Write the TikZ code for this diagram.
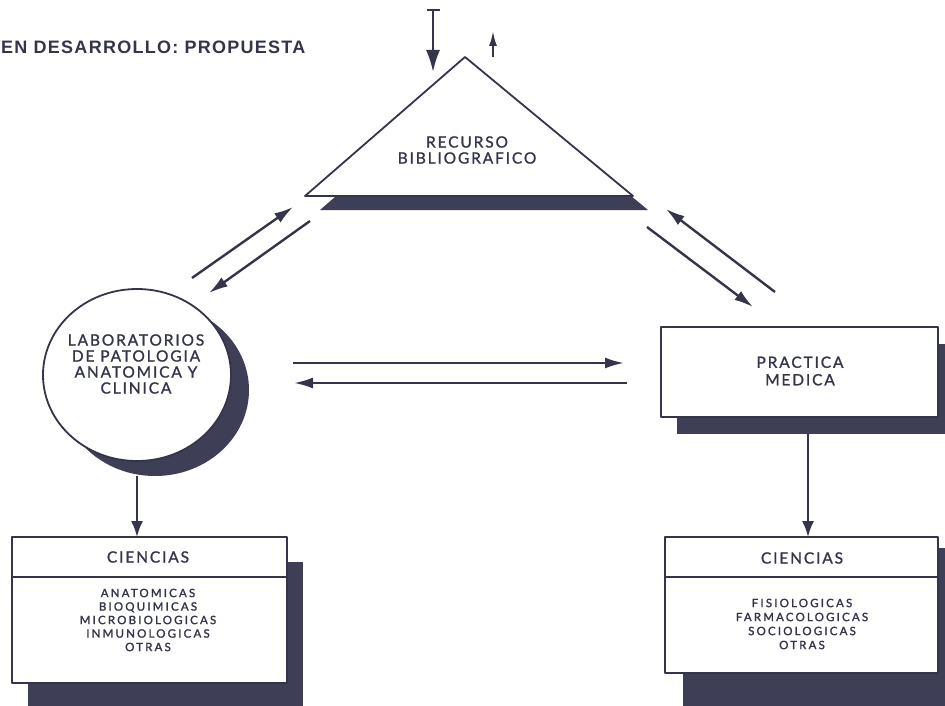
\documentclass[tikz,border=0pt]{standalone}
\usepackage{fontspec}
\setmainfont{Lato}
\newfontfamily\titlefont[LetterSpace=7]{Liberation Sans}
\newfontfamily\lblfont[LetterSpace=12,FakeBold=1.2]{Lato}
\newfontfamily\itmfont[LetterSpace=19,FakeBold=1.6]{Lato}
\usetikzlibrary{arrows.meta,shapes.geometric}
\definecolor{ink}{HTML}{34354A}
\definecolor{shadowcol}{HTML}{3E3F56}
\tikzset{
  lbl/.style={text=ink, align=center, inner sep=0pt, font=\lblfont\fontsize{15.5}{16}\selectfont},
  itm/.style={text=ink, align=center, inner sep=0pt, font=\itmfont\fontsize{11.5}{13.5}\selectfont},
  shadowfill/.style={fill=shadowcol, draw=none},
  boxline/.style={draw=ink, line width=1.8pt, fill=white},
  arr/.style={draw=ink, line width=2.4pt, -{Latex[length=19pt,width=11pt]}},
}
\begin{document}
\begin{tikzpicture}[x=1pt,y=-1pt,line join=round]
\useasboundingbox (0,0) rectangle (945,706);
\fill[white] (0,0) rectangle (945,706);

% title
\node[anchor=west, text=ink, inner sep=0pt, font=\titlefont\bfseries\fontsize{18}{18}\selectfont] (title) at (1,47) {EN DESARROLLO: PROPUESTA};

% triangle
\fill[shadowfill] (480,71) -- (320,210) -- (648,210) -- cycle;
\draw[boxline] (465,57) -- (305,196) -- (633,196) -- cycle;
\coordinate (apex) at (465,57);
\node[lbl] (rec) at (467,150) {RECURSO\\BIBLIOGRAFICO};

% top arrows
\coordinate (tin) at (433,9);
\coordinate (tinend) at (433,72);
\draw[draw=ink, line width=2.2pt, {Bar[width=13pt,line width=2pt]}-{Latex[length=22pt,width=14pt]}] (tin) -- (tinend);
\coordinate (tout) at (493,57);
\coordinate (toutend) at (493,31);
\draw[draw=ink, line width=2pt, -{Latex[length=15pt,width=8pt]}] (tout) -- (toutend);

% circle
\node[ellipse, shadowfill, minimum width=188pt, minimum height=172pt] (labsh) at (155,390) {};
\node[ellipse, boxline, minimum width=188pt, minimum height=172pt] (lab) at (137,375) {};
\node[lbl, font=\lblfont\fontsize{15.5}{16}\selectfont] (labt) at (136,364) {LABORATORIOS\\DE PATOLOGIA\\ANATOMICA Y\\CLINICA};

% practica medica
\fill[shadowfill] (677,344) rectangle (956,434);
\node[rectangle, boxline, minimum width=277pt, minimum height=90pt, inner sep=0pt] (pm) at (799.5,372) {};
\node[lbl, font=\lblfont\fontsize{15.5}{17.5}\selectfont] (pmt) at (800,371) {PRACTICA\\MEDICA};

% left ciencias
\fill[shadowfill] (28,562) rectangle (303,712);
\draw[boxline] (12,537) rectangle (287,683);
\draw[draw=ink, line width=1.6pt] (12,577) -- (287,577);
\coordinate (lbtop) at (137,537);
\node[lbl] (lch) at (148,557) {CIENCIAS};
\node[itm] (lci) at (148,620) {ANATOMICAS\\BIOQUIMICAS\\MICROBIOLOGICAS\\INMUNOLOGICAS\\OTRAS};

% right ciencias
\fill[shadowfill] (683,548) rectangle (960,712);
\draw[boxline] (665,537) rectangle (938,673);
\draw[draw=ink, line width=1.6pt] (665,577) -- (938,577);
\coordinate (rbtop) at (808,537);
\node[lbl] (rch) at (802,558) {CIENCIAS};
\node[itm, font=\itmfont\fontsize{11.5}{14}\selectfont] (rci) at (802,624) {FISIOLOGICAS\\FARMACOLOGICAS\\SOCIOLOGICAS\\OTRAS};

% vertical arrows
\coordinate (labbot) at (137,476);
\coordinate (pmbot) at (808,434);
\draw[draw=ink, line width=2pt, -{Latex[length=16pt,width=12pt]}] (labbot) -- (lbtop);
\draw[draw=ink, line width=2pt, -{Latex[length=16pt,width=12pt]}] (pmbot) -- (rbtop);

% horizontal arrows
\coordinate (h1s) at (293,363);
\coordinate (h1e) at (624,363);
\coordinate (h2s) at (627,383);
\coordinate (h2e) at (294,383);
\draw[arr] (h1s) -- (h1e);
\draw[arr] (h2s) -- (h2e);

% left diagonal arrows
\coordinate (a1s) at (192,278);
\coordinate (a1e) at (293,207);
\coordinate (a2s) at (310,221);
\coordinate (a2e) at (209,293);
\draw[arr] (a1s) -- (a1e);
\draw[arr] (a2s) -- (a2e);

% right diagonal arrows
\coordinate (a3s) at (775,292);
\coordinate (a3e) at (666,209);
\coordinate (a4s) at (647,227);
\coordinate (a4e) at (753,307);
\draw[arr] (a3s) -- (a3e);
\draw[arr] (a4s) -- (a4e);
\end{tikzpicture}
\end{document}
